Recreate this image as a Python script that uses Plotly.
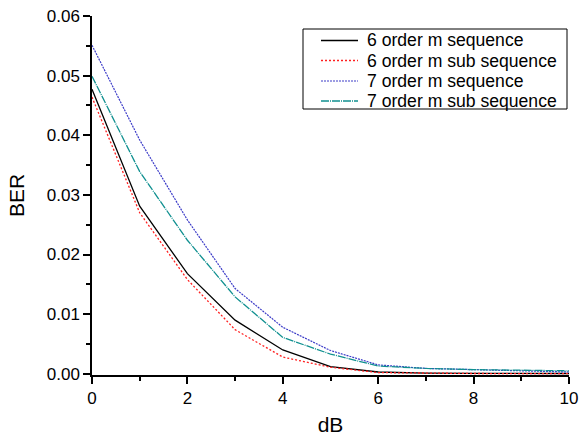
import plotly.graph_objects as go

# SNR in dB
snr_db = [0, 1, 2, 3, 4, 5, 6, 7, 8, 9, 10]

# bit error rate for each spreading sequence
ber_m6 = [0.0477, 0.0281, 0.0168, 0.0090, 0.0040, 0.0012, 0.0003, 0.0001, 0.00006, 0.00005, 0.00005]
ber_m6_sub = [0.0464, 0.0270, 0.0158, 0.0074, 0.0028, 0.0011, 0.0002, 0.0001, 0.00005, 0.00004, 0.00004]
ber_m7 = [0.0551, 0.0392, 0.0258, 0.0143, 0.0078, 0.0039, 0.0015, 0.0009, 0.0007, 0.0005, 0.0003]
ber_m7_sub = [0.0499, 0.0339, 0.0224, 0.0129, 0.0061, 0.0033, 0.0013, 0.0009, 0.0007, 0.0006, 0.0005]

series_names = ["6 order m sequence", "6 order m sub sequence",
                "7 order m sequence", "7 order m sub sequence"]

x_ticks = [0, 2, 4, 6, 8, 10]
y_ticks = [0.00, 0.01, 0.02, 0.03, 0.04, 0.05, 0.06]
y_tick_text = ["0.00", "0.01", "0.02", "0.03", "0.04", "0.05", "0.06"]

FONT = "Liberation Sans, Arial, sans-serif"

styles = [
    dict(color="#000000", width=1.3, dash="solid"),
    dict(color="#ff2020", width=1.3, dash="2px,2px"),
    dict(color="#3c3cc8", width=1.2, dash="2px,1px"),
    dict(color="#109090", width=1.3, dash="8px,1px,1px,1px"),
]

# figure / plot-area geometry (pixels)
W, H = 582, 438
ML, MR, MT, MB = 92, 13, 16, 63
PW, PH = W - ML - MR, H - MT - MB


def px_to_paper_x(px):
    return (px - ML) / PW


def px_to_paper_y(py):
    return (H - MB - py) / PH


fig = go.Figure()
for name, ys, st in zip(series_names, [ber_m6, ber_m6_sub, ber_m7, ber_m7_sub], styles):
    fig.add_trace(go.Scatter(x=snr_db, y=ys, mode="lines", name=name, line=st, showlegend=False))

# boxed legend in the upper-right corner
box_l, box_r, box_t, box_b = 303, 567, 29, 109
key_x0, key_x1, text_x = 321, 358, 365
row_y = [40.5, 60.5, 81, 101]

shapes = [dict(type="rect", xref="paper", yref="paper",
               x0=px_to_paper_x(box_l), x1=px_to_paper_x(box_r),
               y0=px_to_paper_y(box_b), y1=px_to_paper_y(box_t),
               line=dict(color="black", width=1), fillcolor="white", layer="above")]
annotations = []
for name, st, ry in zip(series_names, styles, row_y):
    shapes.append(dict(type="line", xref="paper", yref="paper",
                       x0=px_to_paper_x(key_x0), x1=px_to_paper_x(key_x1),
                       y0=px_to_paper_y(ry), y1=px_to_paper_y(ry),
                       line=st, layer="above"))
    annotations.append(dict(xref="paper", yref="paper", x=px_to_paper_x(text_x), y=px_to_paper_y(ry),
                            xanchor="left", yanchor="middle", text=name, showarrow=False,
                            font=dict(family=FONT, size=17.6, color="black")))

axis_common = dict(
    showgrid=False, zeroline=False, showline=True, linecolor="black", linewidth=1.5,
    ticks="outside", ticklen=7, tickwidth=1.5, tickcolor="black",
    tickfont=dict(family=FONT, size=17, color="black"),
    mirror=False, automargin=False,
)

fig.update_layout(
    width=W, height=H,
    margin=dict(l=ML, r=MR, t=MT, b=MB, autoexpand=False),
    paper_bgcolor="white", plot_bgcolor="white",
    font=dict(family=FONT, color="black"),
    xaxis=dict(range=[0, 10], tickvals=x_ticks,
               minor=dict(tickvals=[1, 3, 5, 7, 9], ticklen=4, tickwidth=1.5, tickcolor="black", ticks="outside"),
               title=dict(text="dB", font=dict(family=FONT, size=21), standoff=10),
               **axis_common),
    yaxis=dict(range=[-0.0002, 0.06], tickvals=y_ticks, ticktext=y_tick_text,
               minor=dict(tickvals=[0.005, 0.015, 0.025, 0.035, 0.045, 0.055], ticklen=4, tickwidth=1.5,
                          tickcolor="black", ticks="outside"),
               title=dict(text="BER", font=dict(family=FONT, size=21), standoff=16),
               **axis_common),
    shapes=shapes,
    annotations=annotations,
    showlegend=False,
)

fig.write_html("out.html")
